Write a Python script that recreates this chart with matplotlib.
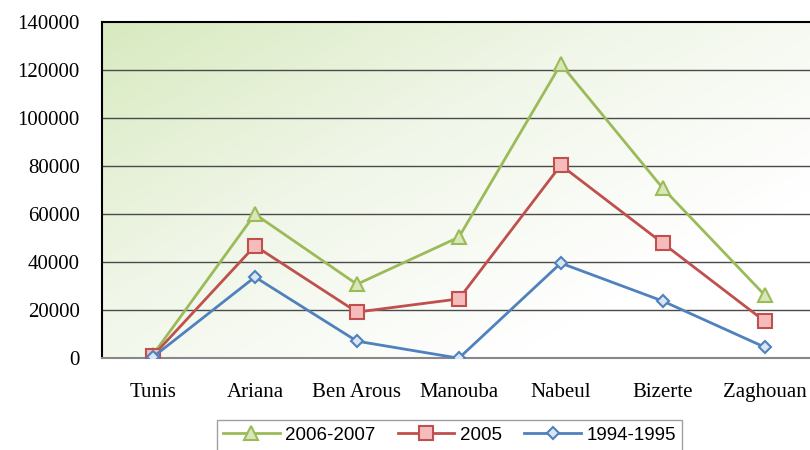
import numpy as np
import matplotlib.pyplot as plt
from matplotlib.colors import LinearSegmentedColormap

cities = ['Tunis', 'Ariana', 'Ben Arous', 'Manouba', 'Nabeul', 'Bizerte', 'Zaghouan']
s_2006 = [1500, 60000, 30800, 50400, 122500, 70800, 26300]
s_2005 = [1000, 46800, 19200, 24700, 80400, 47900, 15400]
s_1994 = [500, 33800, 7100, 0, 39600, 23800, 4600]
yticks = [0, 20000, 40000, 60000, 80000, 100000, 120000, 140000]

fig = plt.figure(figsize=(8.1, 4.5), dpi=100)
ax = fig.add_axes([0.126, 0.204, 0.881, 0.747])

x = np.arange(len(cities))

# background gradient, light green top-left to white bottom-right
gx, gy = np.meshgrid(np.linspace(0, 1, 200), np.linspace(0, 1, 200))
g = np.clip((gx * 0.7 + gy * 0.6), 0, 1)
cmap = LinearSegmentedColormap.from_list('bg', ['#d8eabf', '#f0f6e8', '#ffffff'])
ax.imshow(g, cmap=cmap, extent=[-0.5, 6.5, 0, 140000], origin='upper',
          aspect='auto', zorder=0)

for v in yticks[1:-1]:
    ax.axhline(v, color='#4a4a4a', lw=1, zorder=1)

ax.plot(x, s_2006, color='#9bbb59', lw=2, marker='^', ms=10, mfc='#d7e7b8',
        mec='#9bbb59', mew=1.5, label='2006-2007', zorder=3)
ax.plot(x, s_2005, color='#c0504d', lw=2, marker='s', ms=10, mfc='#f6bcbb',
        mec='#c0504d', mew=1.5, label='2005', zorder=3)
ax.plot(x, s_1994, color='#4f81bd', lw=2, marker='D', ms=6.5, mfc='#dce6f2',
        mec='#4f81bd', mew=1.5, label='1994-1995', zorder=4)

ax.set_xlim(-0.5, 6.5)
ax.set_ylim(0, 140000)
ax.set_yticks(yticks)
ax.set_yticklabels([str(v) for v in yticks], family='Liberation Serif', fontsize=15)
ax.set_xticks(x)
ax.set_xticklabels(cities, family='Liberation Serif', fontsize=15)
ax.tick_params(axis='both', length=0)
ax.tick_params(axis='y', pad=16)
ax.tick_params(axis='x', pad=18)

ax.spines['left'].set_color('black')
ax.spines['left'].set_linewidth(1.5)
ax.spines['top'].set_color('black')
ax.spines['top'].set_linewidth(1.5)
ax.spines['bottom'].set_color('#888888')
ax.spines['bottom'].set_linewidth(1.5)
ax.spines['right'].set_visible(False)

leg = fig.legend(loc='upper center', bbox_to_anchor=(0.555, 0.066), ncol=3,
                 prop={'family': 'Liberation Sans', 'size': 13.5},
                 handlelength=3.0, columnspacing=1.2, handletextpad=0.3,
                 frameon=True, fancybox=False, edgecolor='#888888',
                 borderpad=0.35, borderaxespad=0)
leg.get_frame().set_linewidth(1)

fig.savefig('out.png', dpi=100)
